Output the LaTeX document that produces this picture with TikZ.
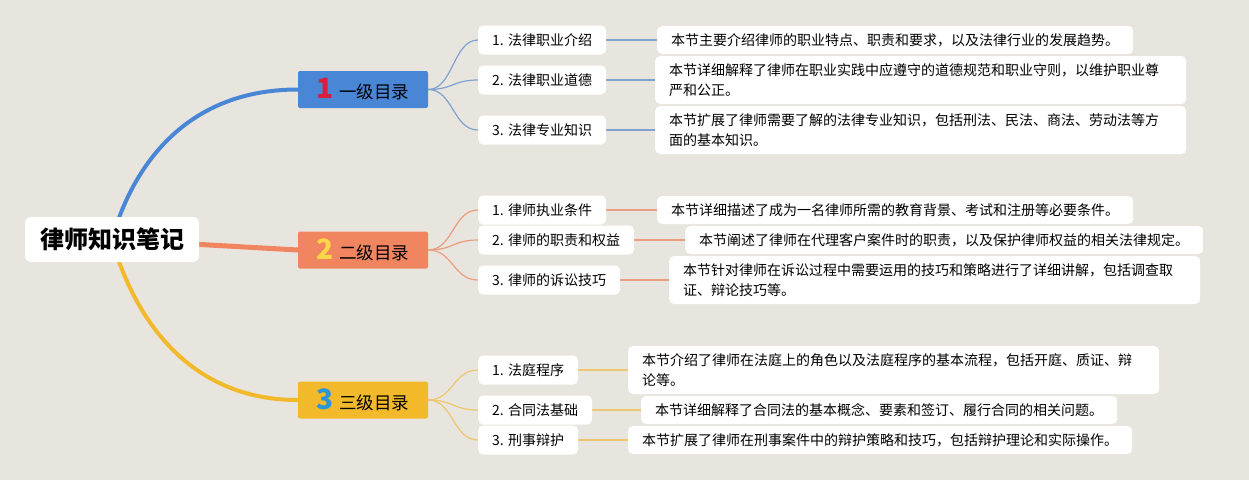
\documentclass[tikz,border=0pt]{standalone}
\usepackage{fontspec}
\newfontfamily\cjkfont{Noto Sans CJK SC}
\pgfdeclarelayer{bg}
\pgfsetlayers{bg,main}

\definecolor{bgpaper}{HTML}{E8E5DE}
\definecolor{lvlblue}{HTML}{4A86D6}
\definecolor{lvlorange}{HTML}{F08560}
\definecolor{lvlyellow}{HTML}{F2B92B}
\definecolor{numred}{HTML}{DC1E3C}
\definecolor{numyellow}{HTML}{FAD746}
\definecolor{numblue}{HTML}{2896D7}
\definecolor{twigblue}{HTML}{7FA1D2}
\definecolor{twigorange}{HTML}{EA9E80}
\definecolor{twigyellow}{HTML}{EEC66E}

\newcommand{\lvlnum}[2]{{\fontsize{28}{28}\selectfont\bfseries\color{#1}#2}\hspace{5pt}}

\begin{document}
\begin{tikzpicture}[x=1pt,y=-1pt,
  rootbox/.style={fill=white, rounded corners=6pt, inner xsep=15pt, inner ysep=0pt,
    minimum height=45pt, font=\cjkfont\fontsize{24}{24}\selectfont\bfseries},
  lvlbox/.style={fill=#1, rounded corners=2pt, minimum width=130pt, minimum height=37pt,
    inner sep=0pt, font=\cjkfont\fontsize{17.5}{18}\selectfont},
  itembox/.style={fill=white, rounded corners=5pt, anchor=west, inner xsep=14pt,
    inner ysep=0pt, minimum height=29pt, font=\cjkfont\fontsize{14}{20}\selectfont},
  notebox/.style={fill=white, rounded corners=5pt, anchor=west, inner xsep=14pt,
    inner ysep=0pt, minimum height=28pt, font=\cjkfont\fontsize{14}{20}\selectfont},
  longnote/.style={notebox, text width=503pt, align=left, minimum height=48pt},
  trunk/.style={draw=#1, line width=4pt, line cap=round},
  twig/.style={draw=#1, line width=1.2pt},
  stem/.style={draw=#1, line width=2pt},
]
  \useasboundingbox (0,0) rectangle (1249,480);

  % --- Root ---
  \node[rootbox] (root) at (112,239.5) {律师知识笔记};

  % --- Level boxes ---
  \node[lvlbox=lvlblue]   (lvla) at (363,89.5) {\lvlnum{numred}{1}一级目录};
  \node[lvlbox=lvlorange] (lvlb) at (363,250)  {\lvlnum{numyellow}{2}二级目录};
  \node[lvlbox=lvlyellow] (lvlc) at (363,400)  {\lvlnum{numblue}{3}三级目录};

  % --- Items of level 1 ---
  \node[itembox] (lvla1) at (478,40)  {1. 法律职业介绍};
  \node[itembox] (lvla2) at (478,80)  {2. 法律职业道德};
  \node[itembox] (lvla3) at (478,130) {3. 法律专业知识};
  \node[notebox]  (nota1) at (657,40)  {本节主要介绍律师的职业特点、职责和要求，以及法律行业的发展趋势。};
  \node[longnote] (nota2) at (655,80)  {本节详细解释了律师在职业实践中应遵守的道德规范和职业守则，以维护职业尊\\严和公正。};
  \node[longnote] (nota3) at (655,130) {本节扩展了律师需要了解的法律专业知识，包括刑法、民法、商法、劳动法等方\\面的基本知识。};

  % --- Items of level 2 ---
  \node[itembox] (lvlb1) at (478,210) {1. 律师执业条件};
  \node[itembox] (lvlb2) at (478,240) {2. 律师的职责和权益};
  \node[itembox] (lvlb3) at (478,280) {3. 律师的诉讼技巧};
  \node[notebox]  (notb1) at (657,210) {本节详细描述了成为一名律师所需的教育背景、考试和注册等必要条件。};
  \node[notebox]  (notb2) at (685,240) {本节阐述了律师在代理客户案件时的职责，以及保护律师权益的相关法律规定。};
  \node[longnote] (notb3) at (669,280) {本节针对律师在诉讼过程中需要运用的技巧和策略进行了详细讲解，包括调查取\\证、辩论技巧等。};

  % --- Items of level 3 ---
  \node[itembox] (lvlc1) at (478,370) {1. 法庭程序};
  \node[itembox] (lvlc2) at (478,410) {2. 合同法基础};
  \node[itembox] (lvlc3) at (478,440) {3. 刑事辩护};
  \node[longnote] (notc1) at (628,370) {本节介绍了律师在法庭上的角色以及法庭程序的基本流程，包括开庭、质证、辩\\论等。};
  \node[notebox]  (notc2) at (641,410) {本节详细解释了合同法的基本概念、要素和签订、履行合同的相关问题。};
  \node[notebox]  (notc3) at (628,440) {本节扩展了律师在刑事案件中的辩护策略和技巧，包括辩护理论和实际操作。};

  % --- Connectors (behind the boxes) ---
  \begin{pgfonlayer}{bg}
    \fill[bgpaper] (0,0) rectangle (1249,480);
    \draw[trunk=lvlblue] (root.center) .. controls +(18,-65) and +(-118,0) .. (lvla.west);
    \draw[trunk=lvlorange, line width=5pt] (root.center) -- (lvlb.west);
    \draw[trunk=lvlyellow] (root.center) .. controls +(18,65) and +(-118,0) .. (lvlc.west);
    \foreach \i in {1,2,3} {
      \draw[twig=twigblue] (lvla.east) .. controls +(25,0) and +(-25,0) .. (lvla\i.west);
      \draw[stem=twigblue] (lvla\i.east) -- (nota\i.west);
      \draw[twig=twigorange] (lvlb.east) .. controls +(25,0) and +(-25,0) .. (lvlb\i.west);
      \draw[stem=twigorange] (lvlb\i.east) -- (notb\i.west);
      \draw[twig=twigyellow] (lvlc.east) .. controls +(25,0) and +(-25,0) .. (lvlc\i.west);
      \draw[stem=twigyellow] (lvlc\i.east) -- (notc\i.west);
    }
  \end{pgfonlayer}
\end{tikzpicture}
\end{document}
